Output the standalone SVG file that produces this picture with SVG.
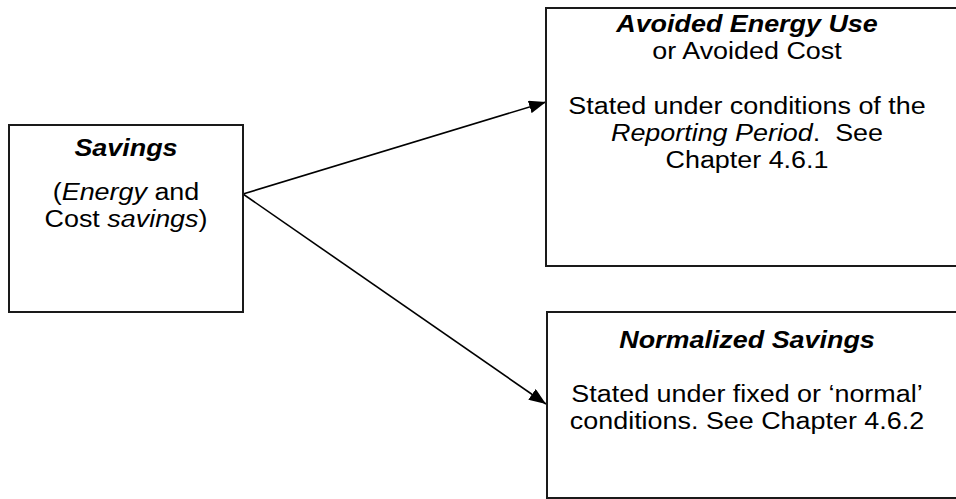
<svg xmlns="http://www.w3.org/2000/svg" width="956" height="499" viewBox="0 0 956 499">
<style>
.box{fill:#fff;stroke:#1a1a1a;stroke-width:2}
.t{font-family:"Liberation Sans",Arial,sans-serif;font-size:23px;fill:#000;text-anchor:middle}
.bi{font-weight:bold;font-style:italic}
.i{font-style:italic}
.pre{white-space:pre}
.con{stroke:#000;stroke-width:1.6;fill:none;marker-end:url(#ah)}
</style>
<defs>
<marker id="ah" markerWidth="17" markerHeight="13" refX="17" refY="6.5" orient="auto" markerUnits="userSpaceOnUse">
<path d="M0,0 L17,6.5 L0,13 Z" fill="#000"/>
</marker>
</defs>
<rect width="956" height="499" fill="#fff"/>
<g id="connectors">
<line class="con" x1="243" y1="194" x2="546" y2="102"/>
<line class="con" x1="243" y1="194" x2="546" y2="404"/>
</g>
<g id="savings">
<rect class="box" x="9" y="125" width="234" height="187"/>
<g transform="translate(126 0) scale(1.17 1)">
<text class="t bi" x="0" y="156">Savings</text>
<text class="t" x="0" y="200">(<tspan class="i">Energy</tspan> and</text>
<text class="t" x="0" y="227">Cost <tspan class="i">savings</tspan>)</text>
</g>
</g>
<g id="avoided">
<rect class="box" x="546" y="8" width="420" height="258"/>
<g transform="translate(747 0) scale(1.17 1)">
<text class="t bi" x="0" y="32">Avoided Energy Use</text>
<text class="t" x="0" y="59">or Avoided Cost</text>
<text class="t" x="0" y="114">Stated under conditions of the</text>
<text class="t pre" x="0" y="141"><tspan class="i">Reporting Period</tspan>.  See</text>
<text class="t" x="0" y="168">Chapter 4.6.1</text>
</g>
</g>
<g id="normalized">
<rect class="box" x="547" y="312" width="420" height="186"/>
<g transform="translate(747 0) scale(1.17 1)">
<text class="t bi" x="0" y="348">Normalized Savings</text>
<text class="t" x="0" y="402">Stated under fixed or ‘normal’</text>
<text class="t" x="0" y="429">conditions. See Chapter 4.6.2</text>
</g>
</g>
</svg>
